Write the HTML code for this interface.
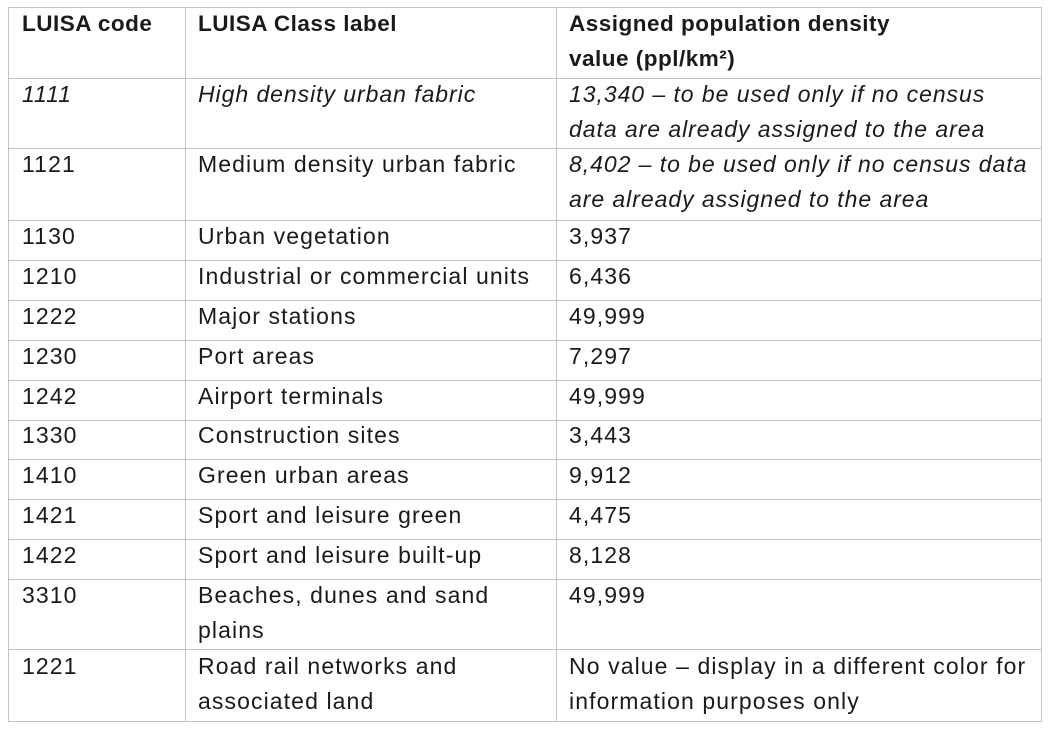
<!DOCTYPE html>
<html><head><meta charset="utf-8"><style>
body{margin:0;width:1048px;height:730px;background:#fff;position:relative;font-family:"Liberation Sans",sans-serif;color:#1a1a1a;overflow:hidden}
.h{position:absolute;background:#c4c4c4;height:1px}
.v{position:absolute;background:#c4c4c4;width:1px;top:7px;height:715px}
.t{position:absolute;font-size:23px;line-height:35px;white-space:nowrap;letter-spacing:1.1px}
.b{font-weight:bold;letter-spacing:0.5px;font-size:22.5px}.i{font-style:italic;letter-spacing:0.95px}
</style></head><body>
<div class="v" style="left:8px"></div><div class="v" style="left:185px"></div><div class="v" style="left:556px"></div><div class="v" style="left:1041px"></div>
<div class="h" style="left:8px;width:1034px;top:7px"></div>
<div class="h" style="left:8px;width:1034px;top:78px"></div>
<div class="h" style="left:8px;width:1034px;top:148px"></div>
<div class="h" style="left:8px;width:1034px;top:220px"></div>
<div class="h" style="left:8px;width:1034px;top:260px"></div>
<div class="h" style="left:8px;width:1034px;top:300px"></div>
<div class="h" style="left:8px;width:1034px;top:340px"></div>
<div class="h" style="left:8px;width:1034px;top:380px"></div>
<div class="h" style="left:8px;width:1034px;top:420px"></div>
<div class="h" style="left:8px;width:1034px;top:459px"></div>
<div class="h" style="left:8px;width:1034px;top:499px"></div>
<div class="h" style="left:8px;width:1034px;top:539px"></div>
<div class="h" style="left:8px;width:1034px;top:579px"></div>
<div class="h" style="left:8px;width:1034px;top:649px"></div>
<div class="h" style="left:8px;width:1034px;top:721px"></div>

<div class="t b" style="left:22px;top:6px">LUISA code</div>
<div class="t b" style="left:198px;top:6px">LUISA Class label</div>
<div class="t b" style="left:569px;top:6px">Assigned population density<br>value (ppl/km²)</div>

<div class="t i" style="left:22px;top:77px">1111</div>
<div class="t i" style="left:198px;top:77px">High density urban fabric</div>
<div class="t i" style="left:569px;top:77px">13,340 – to be used only if no census<br>data are already assigned to the area</div>

<div class="t" style="left:22px;top:147px">1121</div>
<div class="t" style="left:198px;top:147px">Medium density urban fabric</div>
<div class="t i" style="left:569px;top:147px">8,402 – to be used only if no census data<br>are already assigned to the area</div>

<div class="t" style="left:22px;top:219px">1130</div><div class="t" style="left:198px;top:219px">Urban vegetation</div><div class="t" style="left:569px;top:219px">3,937</div>
<div class="t" style="left:22px;top:259px">1210</div><div class="t" style="left:198px;top:259px">Industrial or commercial units</div><div class="t" style="left:569px;top:259px">6,436</div>
<div class="t" style="left:22px;top:299px">1222</div><div class="t" style="left:198px;top:299px">Major stations</div><div class="t" style="left:569px;top:299px">49,999</div>
<div class="t" style="left:22px;top:339px">1230</div><div class="t" style="left:198px;top:339px">Port areas</div><div class="t" style="left:569px;top:339px">7,297</div>
<div class="t" style="left:22px;top:379px">1242</div><div class="t" style="left:198px;top:379px">Airport terminals</div><div class="t" style="left:569px;top:379px">49,999</div>
<div class="t" style="left:22px;top:418px">1330</div><div class="t" style="left:198px;top:418px">Construction sites</div><div class="t" style="left:569px;top:418px">3,443</div>
<div class="t" style="left:22px;top:458px">1410</div><div class="t" style="left:198px;top:458px">Green urban areas</div><div class="t" style="left:569px;top:458px">9,912</div>
<div class="t" style="left:22px;top:498px">1421</div><div class="t" style="left:198px;top:498px">Sport and leisure green</div><div class="t" style="left:569px;top:498px">4,475</div>
<div class="t" style="left:22px;top:538px">1422</div><div class="t" style="left:198px;top:538px">Sport and leisure built-up</div><div class="t" style="left:569px;top:538px">8,128</div>
<div class="t" style="left:22px;top:578px">3310</div><div class="t" style="left:198px;top:578px">Beaches, dunes and sand<br>plains</div><div class="t" style="left:569px;top:578px">49,999</div>
<div class="t" style="left:22px;top:649px">1221</div><div class="t" style="left:198px;top:649px">Road rail networks and<br>associated land</div><div class="t" style="left:569px;top:649px">No value – display in a different color for<br>information purposes only</div>
</body></html>
